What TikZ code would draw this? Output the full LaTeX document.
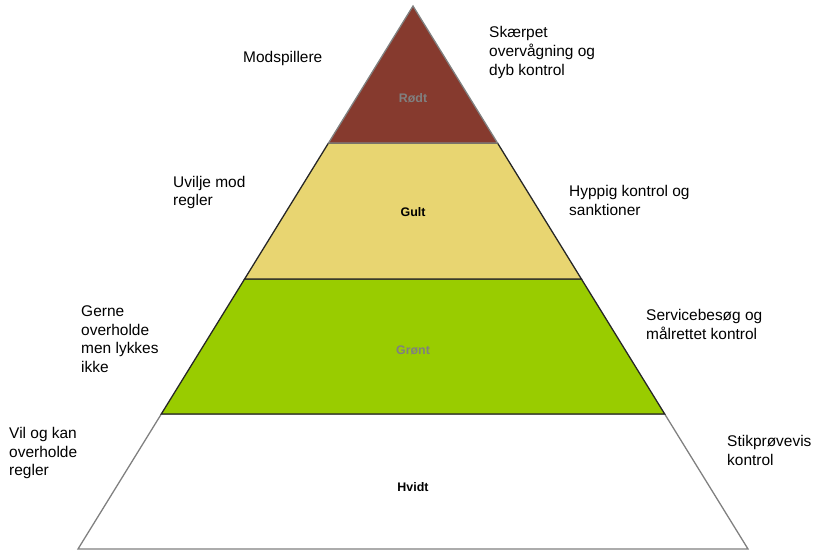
\documentclass[tikz,border=0pt]{standalone}
\usepackage{fontspec}
\setmainfont{Liberation Sans}
\usetikzlibrary{positioning}

\definecolor{tierred}{HTML}{863A2E}
\definecolor{tieryellow}{HTML}{E8D571}
\definecolor{tiergreen}{HTML}{99CC00}

\begin{document}
\begin{tikzpicture}[
x=0.03cm, y=-0.03cm,
layer/.style={line width=1.1pt, line join=miter},
tierlabel/.style={font=\fontsize{10.6}{12}\selectfont\bfseries, inner sep=0pt},
note/.style={anchor=west, align=left, font=\fontsize{13.2}{15.8}\selectfont, inner sep=0pt}
]
\useasboundingbox (0,0) rectangle (820,552);
% corners of the layers
\coordinate (top) at (413,6);
\coordinate (a1) at (328.5,143); \coordinate (b1) at (497.5,143);
\coordinate (a2) at (244.6,279); \coordinate (b2) at (581.4,279);
\coordinate (a3) at (161.3,414); \coordinate (b3) at (664.7,414);
\coordinate (a4) at (78,549);    \coordinate (b4) at (748,549);
% layers
\draw[layer, fill=white, draw=gray] (a3) -- (b3) -- (b4) -- (a4) -- cycle;
\draw[layer, fill=tiergreen, draw=black!85] (a2) -- (b2) -- (b3) -- (a3) -- cycle;
\draw[layer, fill=tieryellow, draw=black!85] (a1) -- (b1) -- (b2) -- (a2) -- cycle;
\draw[layer, fill=tierred, draw=gray] (top) -- (b1) -- (a1) -- cycle;
% tier names
\node[tierlabel, text=gray] (red) at (413,98) {Rødt};
\node[tierlabel] (yellow) at (413,212) {Gult};
\node[tierlabel, text=gray] (green) at (413,350) {Grønt};
\node[tierlabel] (white) at (413,487) {Hvidt};
% left side
\node[note] (n1) at (243,58) {Modspillere};
\node[note] (n2) at (173,192.5) {Uvilje mod\\regler};
\node[note] (n3) at (81,339) {Gerne\\overholde\\men lykkes\\ikke};
\node[note] (n4) at (9,453) {Vil og kan\\overholde\\regler};
% right side
\node[note] (m1) at (489,52.5) {Skærpet\\overvågning og\\dyb kontrol};
\node[note] (m2) at (569,200.5) {Hyppig kontrol og\\sanktioner};
\node[note] (m3) at (646,324.5) {Servicebesøg og\\målrettet kontrol};
\node[note] (m4) at (727,450.5) {Stikprøvevis\\kontrol};
\end{tikzpicture}
\end{document}
